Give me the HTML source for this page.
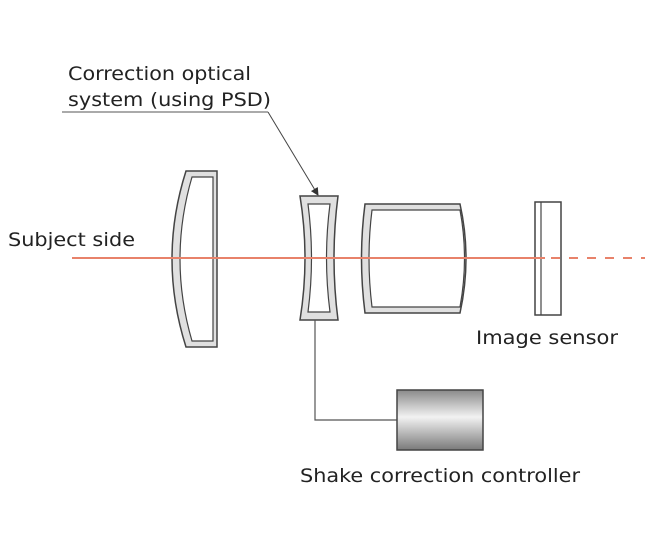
<!DOCTYPE html>
<html><head><style>body{margin:0;background:#fff}svg{display:block}text{font-family:"DejaVu Sans","Liberation Sans",sans-serif;font-size:19px;fill:#222}</style></head>
<body>
<svg width="650" height="550" viewBox="0 0 650 550">
<defs>
<linearGradient id="g" x1="0" y1="0" x2="0" y2="1">
<stop offset="0" stop-color="#8a8a8a"/><stop offset="0.45" stop-color="#f2f2f2"/><stop offset="1" stop-color="#7a7a7a"/>
</linearGradient>
<marker id="a" markerWidth="8" markerHeight="8" refX="7" refY="4" orient="auto"><path d="M0,0 L8,4 L0,8 z" fill="#333"/></marker>
</defs>
<text x="68" y="80" textLength="183" lengthAdjust="spacingAndGlyphs">Correction optical</text>
<text x="68" y="106" textLength="203" lengthAdjust="spacingAndGlyphs">system (using PSD)</text>
<line x1="62" y1="112" x2="268" y2="112" stroke="#555" stroke-width="1"/>
<line x1="268" y1="112" x2="318" y2="195" stroke="#444" stroke-width="1" marker-end="url(#a)"/>
<text x="8" y="246" textLength="127" lengthAdjust="spacingAndGlyphs">Subject side</text>
<text x="476" y="344" textLength="142" lengthAdjust="spacingAndGlyphs">Image sensor</text>
<text x="300" y="482" textLength="280" lengthAdjust="spacingAndGlyphs">Shake correction controller</text>
<path d="M186,171 L217,171 L217,347 L186,347 Q158,259 186,171 Z" fill="#e0e0e0" stroke="#444" stroke-width="1.5"/>
<path d="M192,177 L213,177 L213,341 L192,341 Q168,259 192,177 Z" fill="#fff" stroke="#444" stroke-width="1.2"/>
<path d="M300,196 L338,196 Q330,258 338,320 L300,320 Q310,258 300,196 Z" fill="#e0e0e0" stroke="#444" stroke-width="1.5"/>
<path d="M308,204 L330,204 Q323,258 330,312 L308,312 Q315,258 308,204 Z" fill="#fff" stroke="#444" stroke-width="1.2"/>
<path d="M365,204 L460,204 Q472,258 460,313 L365,313 Q358,258 365,204 Z" fill="#e0e0e0" stroke="#444" stroke-width="1.5"/>
<path d="M372,210 L460,210 Q469,258 460,307 L372,307 Q366,258 372,210 Z" fill="#fff" stroke="#444" stroke-width="1.2"/>
<rect x="535" y="202" width="26" height="113" fill="#fff" stroke="#444" stroke-width="1.5"/>
<line x1="541" y1="202" x2="541" y2="315" stroke="#444" stroke-width="1.2"/>
<line x1="72" y1="258" x2="545" y2="258" stroke="#e8826a" stroke-width="2"/>
<line x1="551" y1="258" x2="645" y2="258" stroke="#e8826a" stroke-width="2" stroke-dasharray="9,9"/>
<polyline points="315,320 315,420 397,420" fill="none" stroke="#555" stroke-width="1.2"/>
<rect x="397" y="390" width="86" height="60" fill="url(#g)" stroke="#444" stroke-width="1.5"/>
</svg>
</body></html>
